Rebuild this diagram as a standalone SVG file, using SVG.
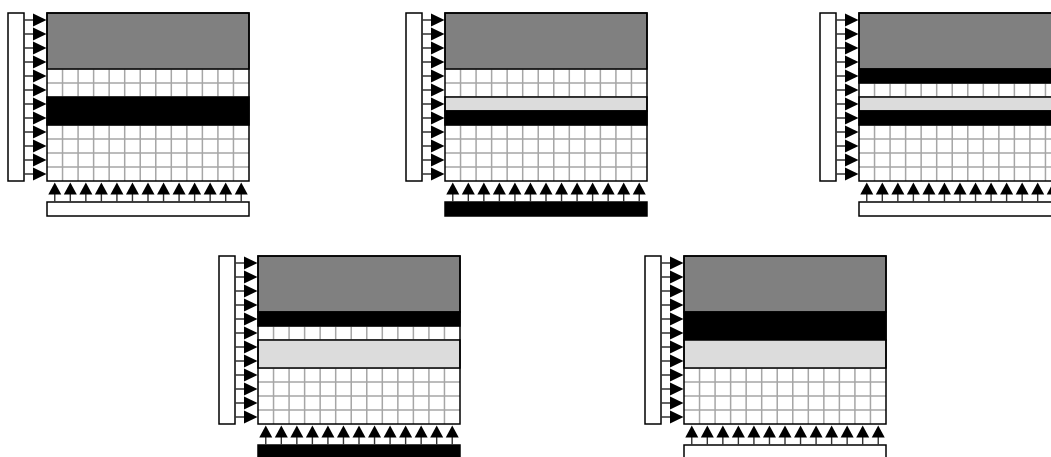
<svg xmlns="http://www.w3.org/2000/svg" xmlns:xlink="http://www.w3.org/1999/xlink" width="1051" height="457" viewBox="0 0 1051 457">
<style>
.bg{fill:#fff;stroke:none}
.gl{stroke:#a6a6a6;stroke-width:1.5;fill:none}
.frame{fill:none;stroke:#000;stroke-width:1.5}
.bar{fill:#fff;stroke:#000;stroke-width:1.5}
.barb{fill:#000;stroke:#000;stroke-width:1.5}
.dk{fill:#808080;stroke:#000;stroke-width:1.5}
.bl{fill:#000;stroke:#000;stroke-width:1.5}
.lt{fill:#dcdcdc;stroke:#000;stroke-width:1.5}
.sh{stroke:#333;stroke-width:1.4;fill:none}
.hd{fill:#000;stroke:none}
</style>
<defs>
<path id="hr" class="hd" d="M-13.5,-6.5 L0,0 L-13.5,6.5 Z"/>
<path id="hu" class="hd" d="M-6.5,12 L0,0 L6.5,12 Z"/>
<g id="grid">
<rect class="bg" x="0" y="0" width="202" height="168"/>
<path class="gl" d="M15.54,0V168M31.08,0V168M46.62,0V168M62.15,0V168M77.69,0V168M93.23,0V168M108.77,0V168M124.31,0V168M139.85,0V168M155.38,0V168M170.92,0V168M186.46,0V168M0,14H202M0,28H202M0,42H202M0,56H202M0,70H202M0,84H202M0,98H202M0,112H202M0,126H202M0,140H202M0,154H202"/>
</g>
<g id="arrows">
<path class="sh" d="M-23,7H-10M-23,21H-10M-23,35H-10M-23,49H-10M-23,63H-10M-23,77H-10M-23,91H-10M-23,105H-10M-23,119H-10M-23,133H-10M-23,147H-10M-23,161H-10"/>
<path class="sh" d="M7.77,189V178M23.31,189V178M38.85,189V178M54.38,189V178M69.92,189V178M85.46,189V178M101,189V178M116.54,189V178M132.08,189V178M147.62,189V178M163.15,189V178M178.69,189V178M194.23,189V178"/>
<use href="#hr" x="-0.5" y="7"/><use href="#hr" x="-0.5" y="21"/><use href="#hr" x="-0.5" y="35"/><use href="#hr" x="-0.5" y="49"/><use href="#hr" x="-0.5" y="63"/><use href="#hr" x="-0.5" y="77"/><use href="#hr" x="-0.5" y="91"/><use href="#hr" x="-0.5" y="105"/><use href="#hr" x="-0.5" y="119"/><use href="#hr" x="-0.5" y="133"/><use href="#hr" x="-0.5" y="147"/><use href="#hr" x="-0.5" y="161"/>
<use href="#hu" x="7.77" y="169.5"/><use href="#hu" x="23.31" y="169.5"/><use href="#hu" x="38.85" y="169.5"/><use href="#hu" x="54.38" y="169.5"/><use href="#hu" x="69.92" y="169.5"/><use href="#hu" x="85.46" y="169.5"/><use href="#hu" x="101" y="169.5"/><use href="#hu" x="116.54" y="169.5"/><use href="#hu" x="132.08" y="169.5"/><use href="#hu" x="147.62" y="169.5"/><use href="#hu" x="163.15" y="169.5"/><use href="#hu" x="178.69" y="169.5"/><use href="#hu" x="194.23" y="169.5"/>
</g>
</defs>

<g id="panel1" transform="translate(47,13)">
<use href="#grid"/>
<rect class="dk" x="0" y="0" width="202" height="56"/>
<rect class="bl" x="0" y="84" width="202" height="28"/>
<rect class="frame" x="0" y="0" width="202" height="168"/>
<rect class="bar" x="-39" y="0" width="16" height="168"/>
<rect class="bar" x="0" y="189" width="202" height="14"/>
</g>

<g id="panel2" transform="translate(445,13)">
<use href="#grid"/>
<rect class="dk" x="0" y="0" width="202" height="56"/>
<rect class="lt" x="0" y="84" width="202" height="14"/>
<rect class="bl" x="0" y="98" width="202" height="14"/>
<rect class="frame" x="0" y="0" width="202" height="168"/>
<rect class="bar" x="-39" y="0" width="16" height="168"/>
<rect class="barb" x="0" y="189" width="202" height="14"/>
</g>

<g id="panel3" transform="translate(859,13)">
<use href="#grid"/>
<rect class="dk" x="0" y="0" width="202" height="56"/>
<rect class="bl" x="0" y="56" width="202" height="14"/>
<rect class="lt" x="0" y="84" width="202" height="14"/>
<rect class="bl" x="0" y="98" width="202" height="14"/>
<rect class="frame" x="0" y="0" width="202" height="168"/>
<rect class="bar" x="-39" y="0" width="16" height="168"/>
<rect class="bar" x="0" y="189" width="202" height="14"/>
</g>

<g id="panel4" transform="translate(258,256)">
<use href="#grid"/>
<rect class="dk" x="0" y="0" width="202" height="56"/>
<rect class="bl" x="0" y="56" width="202" height="14"/>
<rect class="lt" x="0" y="84" width="202" height="28"/>
<rect class="frame" x="0" y="0" width="202" height="168"/>
<rect class="bar" x="-39" y="0" width="16" height="168"/>
<rect class="barb" x="0" y="189" width="202" height="14"/>
</g>

<g id="panel5" transform="translate(684,256)">
<use href="#grid"/>
<rect class="dk" x="0" y="0" width="202" height="56"/>
<rect class="bl" x="0" y="56" width="202" height="28"/>
<rect class="lt" x="0" y="84" width="202" height="28"/>
<rect class="frame" x="0" y="0" width="202" height="168"/>
<rect class="bar" x="-39" y="0" width="16" height="168"/>
<rect class="bar" x="0" y="189" width="202" height="14"/>
</g>

<g id="connectors">
<use href="#arrows" transform="translate(47,13)"/>
<use href="#arrows" transform="translate(445,13)"/>
<use href="#arrows" transform="translate(859,13)"/>
<use href="#arrows" transform="translate(258,256)"/>
<use href="#arrows" transform="translate(684,256)"/>
</g>
</svg>
